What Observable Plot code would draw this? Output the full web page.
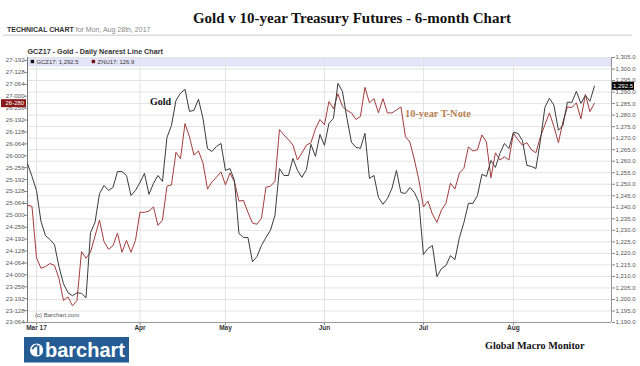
<!DOCTYPE html>
<html><head><meta charset="utf-8">
<script src="https://cdn.jsdelivr.net/npm/d3@7"></script>
<script src="https://cdn.jsdelivr.net/npm/@observablehq/plot@0.6"></script>
<style>
html,body{margin:0;padding:0;background:#fff;overflow:hidden}
#wrap{position:relative;width:640px;height:366px}
#wrap > svg{position:absolute;left:0;top:0}
</style>
</head><body><div id="wrap"></div>
<script>
// ---- Data (trading-day index 0 = Feb 27, 2017) ----
const goldValues = [1259.0,1253.4,1247.3,1233.8,1227.7,1226.0,1223.8,1214.2,1206.8,1202.9,
1201.6,1202.9,1202.7,1200.7,1229.0,1233.4,1245.9,1249.5,1247.3,1248.6,
1255.5,1255.5,1253.8,1245.1,1247.3,1250.8,1254.7,1245.6,1250.4,1253.8,
1251.2,1270.3,1275.5,1286.4,1289.5,1291.2,1281.6,1282.1,1286.9,1278.6,
1265.5,1264.2,1266.4,1267.7,1256.0,1256.8,1251.6,1228.6,1226.9,1226.9,
1216.4,1218.6,1223.4,1226.9,1230.0,1236.5,1256.8,1253.8,1253.8,1261.2,
1256.0,1253.0,1256.4,1267.3,1262.1,1271.6,1266.9,1276.4,1278.6,1293.8,
1290.3,1278.6,1268.2,1266.0,1265.6,1272.1,1252.5,1253.8,1244.3,1241.3,
1243.8,1248.2,1256.0,1246.4,1246.0,1248.6,1246.4,1242.1,1219.5,1222.1,
1223.4,1209.9,1213.4,1214.7,1219.0,1217.3,1226.9,1233.4,1241.7,1241.7,
1245.1,1254.3,1253.4,1260.3,1257.3,1263.4,1267.7,1265.5,1272.5,1272.1,
1269.0,1258.2,1257.7,1256.8,1269.0,1283.4,1287.3,1284.3,1273.4,1275.5,
1285.6,1285.6,1290.3,1285.1,1288.6,1286.0,1292.5];

const tnoteValues = [125.17,125.15,124.29,124.11,124.14,124.19,124.16,123.94,123.57,123.63,
123.48,123.57,124.39,124.28,124.38,124.65,124.92,124.56,124.43,124.49,
124.70,124.38,124.58,124.38,124.58,125.05,125.05,125.07,125.14,124.83,
124.92,125.49,125.51,126.06,125.95,126.54,126.32,126.01,126.08,125.88,
125.44,125.56,125.64,125.73,125.51,125.71,125.56,125.24,125.25,125.05,
124.87,124.85,124.95,125.47,125.49,125.57,126.44,126.35,126.27,126.18,
125.93,126.05,126.18,126.22,126.45,126.61,126.52,126.91,126.79,127.04,
126.83,126.76,126.72,126.61,126.66,127.15,126.89,126.96,126.72,126.96,
126.72,126.72,126.77,126.82,126.32,126.23,125.93,125.59,125.14,125.24,
125.02,124.88,125.09,125.20,125.54,125.44,125.71,125.79,126.15,126.08,
126.10,126.35,126.23,125.63,126.05,125.93,125.98,125.93,126.38,126.27,
126.18,126.22,126.10,126.05,126.32,126.52,126.72,126.49,126.22,126.57,
126.82,126.81,126.89,126.62,127.03,126.74,126.88];

const monthTickIndex = [2, 25, 44, 66, 88, 108];
const monthTickLabels = ["Mar 17", "Apr", "May", "Jun", "Jul", "Aug"];

const goldTicks = [1190,1195,1200,1205,1210,1215,1220,1225,1230,1235,1240,1245,1250,
  1255,1260,1265,1270,1275,1280,1285,1290,1295,1300,1305];

const tnoteTickValues = [127.6,127.4,127.2,127.0,126.8,126.6,126.4,126.2,126.0,125.8,125.6,
  125.4,125.2,125.0,124.8,124.6,124.4,124.2,124.0,123.8,123.6,123.4,123.2];
const tnoteTickLabels = ["27-192","27-128","27-064","27-000","26-256","26-192","26-128","26-064",
  "26-000","25-256","25-192","25-128","25-064","25-000","24-256","24-192","24-128","24-064",
  "24-000","23-256","23-192","23-128","23-064"];

const goldLast = 1292.5, goldLastLabel = "1,292.5";
const tnoteLast = 126.875, tnoteLastLabel = "26-280";

// left (T-Note) axis is mapped onto the gold scale
const tBase = 123.2, gBase = 1190, tRatio = 25.84;
const toG = t => gBase + (t - tBase) * tRatio;

const goldData = goldValues.map((v, i) => ({i, v}));
const tnoteData = tnoteValues.map((t, i) => ({i, g: toG(t)}));
const leftTickG = tnoteTickValues.map(toG);
const leftLabelMap = new Map(leftTickG.map((g, k) => [g, tnoteTickLabels[k]]));
const monthLabelMap = new Map(monthTickIndex.map((d, k) => [d, monthTickLabels[k]]));

const wrap = document.getElementById("wrap");
const ns = "http://www.w3.org/2000/svg";

// ---- back layer ----
const back = d3.create("svg").attr("width", 640).attr("height", 366);
back.append("rect").attr("x", 27.5).attr("y", 57.5).attr("width", 583.5).attr("height", 8.5)
  .attr("fill", "#e5e5f9").attr("stroke", "#cfcfe6").attr("stroke-width", 0.6);
wrap.appendChild(back.node());

// ---- the chart ----
const chart = Plot.plot({
  width: 640, height: 366,
  marginLeft: 27, marginRight: 29, marginTop: 57, marginBottom: 44,
  x: {domain: [0, 129.8], label: null},
  y: {domain: [1190, 1305], label: null},
  style: {fontFamily: "'Liberation Sans', Arial, sans-serif", fontSize: "6px", color: "#444", background: "transparent"},
  marks: [
    Plot.gridY({ticks: goldTicks, stroke: "#e3e3e3", strokeOpacity: 1}),
    Plot.gridX({ticks: monthTickIndex, stroke: "#e3e3e3", strokeOpacity: 1}),
    Plot.axisY({ticks: goldTicks, anchor: "right", tickSize: 3, tickPadding: 1, stroke: "#888",
      tickFormat: d => d3.format(",.1f")(d), fill: "#555", label: null}),
    Plot.axisY({ticks: leftTickG, anchor: "left", tickSize: 3, tickPadding: 0, stroke: "#888",
      tickFormat: d => leftLabelMap.get(d), fill: "#555", label: null}),
    Plot.axisX({ticks: monthTickIndex, tickSize: 3, tickPadding: 0, stroke: "#888",
      tickFormat: d => monthLabelMap.get(d), fontWeight: "bold", fontSize: 6.5, fill: "#333", label: null}),
    Plot.ruleX([0], {stroke: "#777"}),
    Plot.ruleX([129.8], {stroke: "#999"}),
    Plot.ruleY([1190], {stroke: "#999"}),
    Plot.line(tnoteData, {x: "i", y: "g", stroke: "#a43c3c", strokeWidth: 1}),
    Plot.line(goldData, {x: "i", y: "v", stroke: "#3b3b3b", strokeWidth: 1})
  ]
});
wrap.appendChild(chart);

const ys = chart.scale("y");
const yPix = v => (ys && ys.apply) ? ys.apply(v) : d3.scaleLinear().domain([1190,1305]).range([322,57])(v);

// ---- front layer ----
const front = d3.create("svg").attr("width", 640).attr("height", 366).style("pointer-events", "none");
const serif = "'Liberation Serif', 'Times New Roman', serif";
const sans = "'Liberation Sans', Arial, sans-serif";

front.append("text").attr("x", 352).attr("y", 22.5).attr("text-anchor", "middle")
  .attr("font-family", serif).attr("font-weight", "bold").attr("font-size", 15).attr("fill", "#111")
  .text("Gold v 10-year Treasury Futures - 6-month Chart");

const tc = front.append("text").attr("x", 7).attr("y", 31.5).attr("font-family", sans).attr("font-size", 7);
tc.append("tspan").attr("font-weight", "bold").attr("fill", "#333").text("TECHNICAL CHART");
tc.append("tspan").attr("fill", "#888").text(" for Mon, Aug 28th, 2017");

front.append("line").attr("x1", 3).attr("x2", 632).attr("y1", 35.3).attr("y2", 35.3)
  .attr("stroke", "#dcdcdc").attr("stroke-width", 1.6);

front.append("text").attr("x", 27.5).attr("y", 54.3).attr("font-family", sans).attr("font-weight", "bold")
  .attr("font-size", 7.2).attr("fill", "#333").text("GCZ17 - Gold - Daily Nearest Line Chart");

front.append("rect").attr("x", 30.7).attr("y", 59.8).attr("width", 3.4).attr("height", 3.4).attr("fill", "#111");
front.append("text").attr("x", 36.5).attr("y", 64).attr("font-family", sans).attr("font-size", 5.9)
  .attr("fill", "#333").text("GCZ17: " + goldLastLabel);
front.append("rect").attr("x", 91.7).attr("y", 59.8).attr("width", 3.4).attr("height", 3.4).attr("fill", "#6e1010");
front.append("text").attr("x", 97.6).attr("y", 64).attr("font-family", sans).attr("font-size", 5.9)
  .attr("fill", "#333").text("ZNU17: 126.9");

front.append("text").attr("x", 35).attr("y", 317.2).attr("font-family", sans).attr("font-size", 6)
  .attr("fill", "#555").text("(c) Barchart.com");

// current value boxes
const gy = yPix(goldLast);
front.append("rect").attr("x", 612).attr("y", gy - 4).attr("width", 22).attr("height", 8).attr("fill", "#000");
front.append("text").attr("x", 613).attr("y", gy + 2.2).attr("font-family", sans).attr("font-size", 6)
  .attr("fill", "#fff").text(goldLastLabel);
const ty = yPix(toG(tnoteLast));
front.append("rect").attr("x", 1).attr("y", ty - 4).attr("width", 25).attr("height", 8).attr("fill", "#8a1a1a");
front.append("text").attr("x", 5.5).attr("y", ty + 2.2).attr("font-family", sans).attr("font-size", 6)
  .attr("fill", "#fff").text(tnoteLastLabel);

// annotations
front.append("text").attr("x", 150).attr("y", 104.5).attr("font-family", serif).attr("font-weight", "bold")
  .attr("font-size", 10).attr("fill", "#111").text("Gold");
front.append("text").attr("x", 405).attr("y", 117).attr("font-family", serif).attr("font-weight", "bold")
  .attr("font-size", 10.4).attr("fill", "#b98152").text("10-year T-Note");
front.append("text").attr("x", 485).attr("y", 348.8).attr("font-family", serif).attr("font-weight", "bold")
  .attr("font-size", 10.2).attr("fill", "#111").text("Global Macro Monitor");

// barchart logo
front.append("rect").attr("x", 24).attr("y", 337).attr("width", 105).attr("height", 25.5).attr("fill", "#245c93");
front.append("circle").attr("cx", 36.6).attr("cy", 350).attr("r", 6.6).attr("fill", "#fff");
front.append("rect").attr("x", 37.2).attr("y", 345.5).attr("width", 2.2).attr("height", 9.5).attr("fill", "#245c93");
front.append("path").attr("d", "M31.5,349 Q34,343.8 37.2,344.6 L37.2,346.6 Q34.5,346.5 33,349.5 Z").attr("fill", "#245c93");
front.append("text").attr("x", 45).attr("y", 356.6).attr("font-family", sans).attr("font-weight", "bold")
  .attr("font-size", 20).attr("fill", "#fff").text("barchart");

wrap.appendChild(front.node());
</script>
</body></html>
